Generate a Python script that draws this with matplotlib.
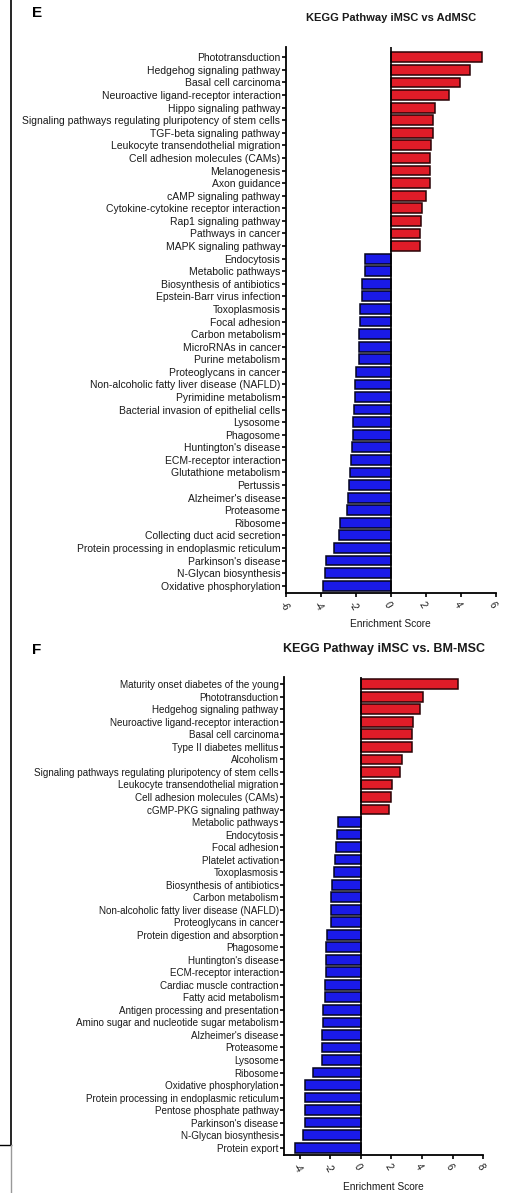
import matplotlib
matplotlib.use('Agg')
import matplotlib.pyplot as plt
from matplotlib.lines import Line2D

plt.rcParams['font.family'] = ['Liberation Sans', 'DejaVu Sans']

# ---- panel E : iMSC vs AdMSC
e_terms = ['Phototransduction', 'Hedgehog signaling pathway', 'Basal cell carcinoma',
           'Neuroactive ligand-receptor interaction', 'Hippo signaling pathway',
           'Signaling pathways regulating pluripotency of stem cells',
           'TGF-beta signaling pathway', 'Leukocyte transendothelial migration',
           'Cell adhesion molecules (CAMs)', 'Melanogenesis', 'Axon guidance',
           'cAMP signaling pathway', 'Cytokine-cytokine receptor interaction',
           'Rap1 signaling pathway', 'Pathways in cancer', 'MAPK signaling pathway',
           'Endocytosis', 'Metabolic pathways', 'Biosynthesis of antibiotics',
           'Epstein-Barr virus infection', 'Toxoplasmosis', 'Focal adhesion',
           'Carbon metabolism', 'MicroRNAs in cancer', 'Purine metabolism',
           'Proteoglycans in cancer', 'Non-alcoholic fatty liver disease (NAFLD)',
           'Pyrimidine metabolism', 'Bacterial invasion of epithelial cells',
           'Lysosome', 'Phagosome', "Huntington's disease", 'ECM-receptor interaction',
           'Glutathione metabolism', 'Pertussis', "Alzheimer's disease", 'Proteasome',
           'Ribosome', 'Collecting duct acid secretion',
           'Protein processing in endoplasmic reticulum', "Parkinson's disease",
           'N-Glycan biosynthesis', 'Oxidative phosphorylation']
e_scores = [5.24, 4.55, 3.98, 3.33, 2.54, 2.41, 2.41, 2.31, 2.24, 2.24, 2.22,
            2.01, 1.80, 1.72, 1.68, 1.68,
            -1.47, -1.49, -1.63, -1.64, -1.74, -1.76, -1.80, -1.82, -1.85,
            -1.99, -2.05, -2.08, -2.10, -2.14, -2.16, -2.20, -2.28, -2.35,
            -2.39, -2.43, -2.50, -2.91, -2.96, -3.23, -3.69, -3.79, -3.86]
e_ticks = [-6, -4, -2, 0, 2, 4, 6]

# ---- panel F : iMSC vs BM-MSC
f_terms = ['Maturity onset diabetes of the young', 'Phototransduction',
           'Hedgehog signaling pathway', 'Neuroactive ligand-receptor interaction',
           'Basal cell carcinoma', 'Type II diabetes mellitus', 'Alcoholism',
           'Signaling pathways regulating pluripotency of stem cells',
           'Leukocyte transendothelial migration', 'Cell adhesion molecules (CAMs)',
           'cGMP-PKG signaling pathway', 'Metabolic pathways', 'Endocytosis',
           'Focal adhesion', 'Platelet activation', 'Toxoplasmosis',
           'Biosynthesis of antibiotics', 'Carbon metabolism',
           'Non-alcoholic fatty liver disease (NAFLD)', 'Proteoglycans in cancer',
           'Protein digestion and absorption', 'Phagosome', "Huntington's disease",
           'ECM-receptor interaction', 'Cardiac muscle contraction',
           'Fatty acid metabolism', 'Antigen processing and presentation',
           'Amino sugar and nucleotide sugar metabolism', "Alzheimer's disease",
           'Proteasome', 'Lysosome', 'Ribosome', 'Oxidative phosphorylation',
           'Protein processing in endoplasmic reticulum', 'Pentose phosphate pathway',
           "Parkinson's disease", 'N-Glycan biosynthesis', 'Protein export']
f_scores = [6.32, 4.07, 3.86, 3.42, 3.36, 3.31, 2.68, 2.55, 2.03, 2.00, 1.83,
            -1.46, -1.55, -1.61, -1.72, -1.74, -1.87, -1.94, -1.94, -1.98,
            -2.20, -2.27, -2.27, -2.29, -2.31, -2.35, -2.46, -2.48, -2.53,
            -2.53, -2.55, -3.12, -3.64, -3.64, -3.66, -3.68, -3.79, -4.31]
f_ticks = [-4, -2, 0, 2, 4, 6, 8]

W, H = 508, 1193
fig = plt.figure(figsize=(W / 100, H / 100), dpi=100)


def px_axes(left, top, right, bottom):
    return fig.add_axes([left / W, 1 - bottom / H, (right - left) / W, (bottom - top) / H])


def draw_panel(ax, terms, scores, ticks, xlim, ylim, lab_size):
    cols = ['#e01c28' if s > 0 else '#1a1ae8' for s in scores]
    edges = ['#2a0306' if s > 0 else '#04041f' for s in scores]
    ax.barh(range(len(terms)), scores, height=0.78, color=cols,
            edgecolor=edges, linewidth=1.1)
    ax.axvline(0, color='black', lw=1.2)
    ax.set_xlim(*xlim)
    ax.set_ylim(*ylim)
    ax.set_yticks(range(len(terms)))
    ax.set_yticklabels(terms, fontsize=lab_size, color='#1a1a1a')
    ax.set_xticks(ticks)
    ax.set_xticklabels([str(t) for t in ticks], fontsize=7, rotation=-60,
                       ha='left', va='top', rotation_mode='anchor', color='#1a1a1a')
    ax.tick_params(axis='y', length=3, width=1.2, pad=1)
    ax.tick_params(axis='x', length=3, width=1.2, pad=2)
    ax.spines['top'].set_visible(False)
    ax.spines['right'].set_visible(False)
    ax.spines['left'].set_linewidth(1.3)
    ax.spines['bottom'].set_linewidth(1.3)
    ax.set_xlabel('Enrichment Score', fontsize=7.3, color='#1a1a1a', labelpad=5)


ax1 = px_axes(286, 47, 495.7, 593)
draw_panel(ax1, e_terms, e_scores, e_ticks, (-6, 6), (42.58, -0.82), 7.5)

ax2 = px_axes(284.3, 677, 483.3, 1155.3)
draw_panel(ax2, f_terms, f_scores, f_ticks, (-5, 8), (37.61, -0.58), 7.15)

fig.text(37 / W, 1 - 13 / H, 'E', fontsize=11, fontweight='bold', ha='center', va='center')
fig.text(391 / W, 1 - 18 / H, 'KEGG Pathway iMSC vs AdMSC', fontsize=8,
         fontweight='bold', ha='center', va='center', color='#1a1a1a')
fig.text(37 / W, 1 - 650 / H, 'F', fontsize=11, fontweight='bold', ha='center', va='center')
fig.text(384 / W, 1 - 649 / H, 'KEGG Pathway iMSC vs. BM-MSC', fontsize=9,
         fontweight='bold', ha='center', va='center', color='#1a1a1a')

# frame lines at left edge
fig.add_artist(Line2D([11 / W, 11 / W], [1, 1 - 1145 / H], color='black', lw=1.2))
fig.add_artist(Line2D([0, 11 / W], [1 - 1145 / H, 1 - 1145 / H], color='black', lw=1.0))
fig.add_artist(Line2D([11 / W, 11 / W], [1 - 1145 / H, 0], color='#999999', lw=1.0))

fig.savefig('out.png', dpi=100)
